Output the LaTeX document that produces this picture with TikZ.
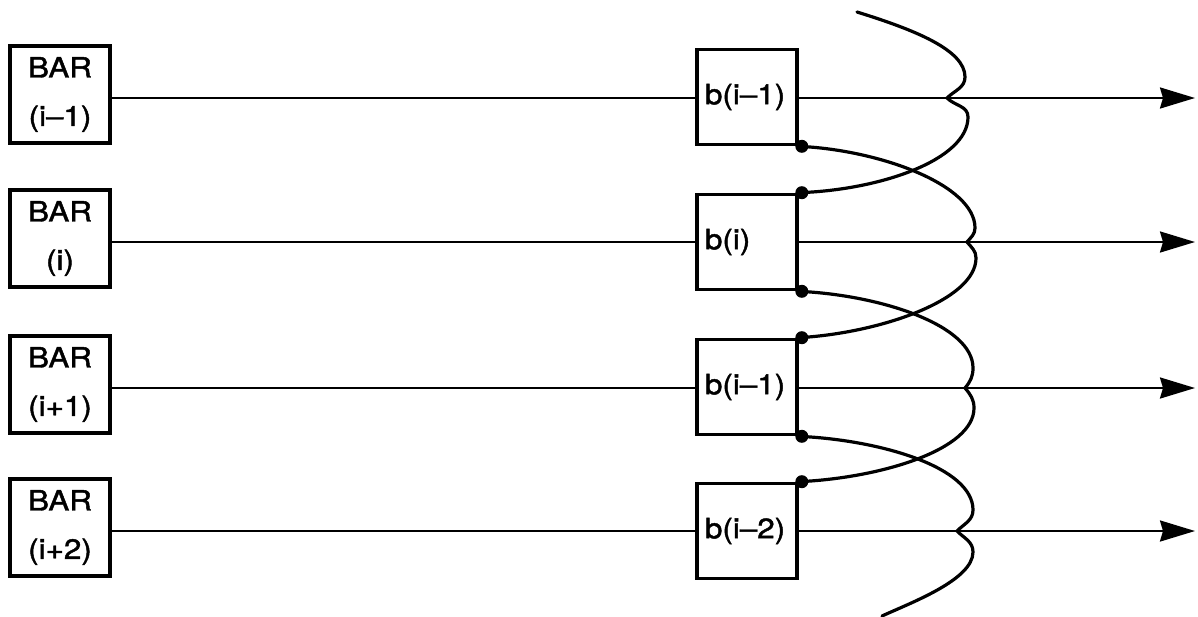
\documentclass[tikz,border=0pt]{standalone}
\usepackage{fontspec}
\setmainfont[FakeStretch=1.12,FakeBold=1.6]{TeX Gyre Heros}
\usetikzlibrary{arrows.meta}
\begin{document}
\begin{tikzpicture}[x=1pt,y=-1pt,
  barbox/.style={draw,line width=4pt,minimum width=100pt,minimum height=97pt,inner sep=0pt,align=center,font=\fontsize{28}{48.5}\selectfont},
  bbox/.style={draw,line width=3.6pt,minimum width=100pt,minimum height=95pt,inner sep=0pt,text width=84pt,align=left,font=\fontsize{28}{30}\selectfont},
  wire/.style={line width=2.4pt},
  outarrow/.style={wire,-{Stealth[length=35pt,width=21pt,inset=3pt]}},
  curve/.style={line width=3.2pt,line cap=round},
  dotc/.style={fill=black}
]
\useasboundingbox (0,0) rectangle (1198,616);
% rows
\coordinate (y1) at (0,98);
\coordinate (y2) at (0,242);
\coordinate (y3) at (0,388);
\coordinate (y4) at (0,531);
% BAR boxes
\node[barbox] (B1) at (60,94.5) {BAR\\(i--1)};
\node[barbox] (B2) at (60,238.5) {BAR\\(i)};
\node[barbox] (B3) at (60,384.5) {BAR\\(i+1)};
\node[barbox] (B4) at (60,527.5) {BAR\\(i+2)};
% b boxes
\node[bbox] (b1) at (747,97) {b(i--1)};
\node[bbox] (b2) at (747,242) {b(i)};
\node[bbox] (b3) at (747,387) {b(i--1)};
\node[bbox] (b4) at (747,531) {b(i--2)};
% arrow ends
\coordinate (e1) at (1195,98);
\coordinate (e2) at (1195,242);
\coordinate (e3) at (1195,388);
\coordinate (e4) at (1195,531);
% wires
\foreach \i in {1,2,3,4}{
  \draw[wire] (B\i.east |- y\i) -- (b\i.west |- y\i);
  \draw[outarrow] (b\i.east |- y\i) -- (e\i);
}
% cusps and curve ends
\coordinate (c1) at (947,98);
\coordinate (c2) at (967,242);
\coordinate (c3) at (965,388);
\coordinate (c4) at (957,531);
\coordinate (top) at (857,12);
\coordinate (bot) at (882,616);
% curves
\draw[curve] (top) .. controls (915,30) and (965,50) .. (965,77) to[out=-90,in=45] (c1)
  to[out=-45,in=90] (968,117) .. controls (968,160) and (880,190) .. (b2.north east);
\draw[curve] (b1.south east) .. controls (880,150) and (975,185) .. (975,228) to[out=-90,in=50] (c2)
  to[out=-50,in=90] (976,258) .. controls (976,300) and (880,333) .. (b3.north east);
\draw[curve] (b2.south east) .. controls (880,295) and (973,325) .. (973,368) to[out=-90,in=50] (c3)
  to[out=-50,in=90] (974,408) .. controls (974,450) and (880,478) .. (b4.north east);
\draw[curve] (b3.south east) .. controls (880,440) and (973,467) .. (973,510) to[out=-90,in=45] (c4)
  to[out=-45,in=90] (973,552) .. controls (973,580) and (910,603) .. (bot);
% dots
\foreach \n in {b1.south east,b2.north east,b2.south east,b3.north east,b3.south east,b4.north east}{
  \fill[dotc] ([xshift=3pt]\n) circle (6.5pt);
}
\end{tikzpicture}
\end{document}
